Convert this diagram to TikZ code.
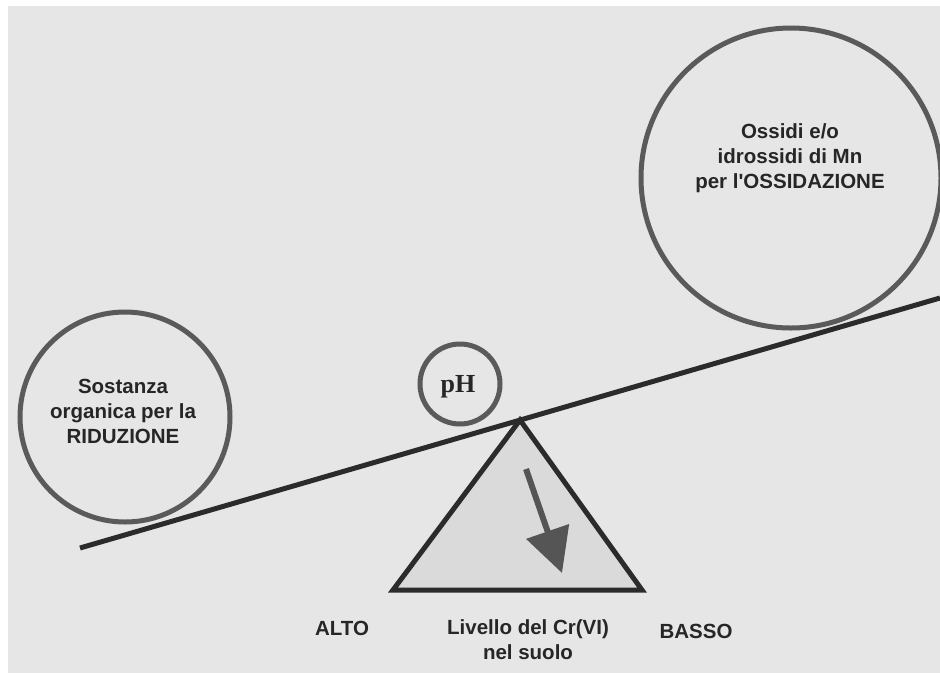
\documentclass[tikz,border=0pt]{standalone}
\usepackage{fontspec}
\setmainfont{Liberation Sans}
\newfontfamily\phfont{Liberation Serif}
\usepackage{xcolor}
\usetikzlibrary{arrows.meta, positioning}
\definecolor{sfondo}{HTML}{E6E6E6}
\definecolor{cerchio}{HTML}{5A5A5A}
\definecolor{leva}{HTML}{2B2B2B}
\definecolor{grigiotri}{HTML}{DADADA}
\definecolor{freccia}{HTML}{555555}

\begin{document}
\begin{tikzpicture}[x=1pt, y=-1pt,
			piatto/.style={circle, draw=cerchio, line width=5pt, align=center},
			etichetta/.style={align=center, text=black!85,
				font=\bfseries\fontsize{20.5}{25}\selectfont}]
			
			\useasboundingbox (0,0) rectangle (940,673);
			\fill[white] (0,0) rectangle (940,673);
			\fill[sfondo] (8,6) rectangle (940,673);
			
			% piatti della bilancia
			\node[piatto, minimum size=210pt] (riduz) at (125,417) {};
			\node[etichetta] (riduztxt) at (123,411) {Sostanza\\organica per la\\RIDUZIONE};
			\node[piatto, minimum size=300pt] (ossid) at (791,178) {};
			\node[etichetta] (ossidtxt) at (790,158) {Ossidi e/o\\idrossidi di Mn\\per l\textquotesingle OSSIDAZIONE};
			\node[piatto, minimum size=80pt] (ph) at (460,384) {};
			\node[font=\phfont\bfseries\fontsize{26}{26}\selectfont, text=black!85] (phtxt) at (458,387) {pH};
			
			% fulcro e asta
			\coordinate (apice) at (520,420);
			\coordinate (basesx) at (393,590);
			\coordinate (basedx) at (642,590);
			\draw[leva, fill=grigiotri, line width=5pt, line join=miter] (apice) -- (basesx) -- (basedx) -- cycle;
			\coordinate (astasx) at (80,548);
			\coordinate (astadx) at (940,298);
			\draw[leva, line width=5pt] (astasx) -- (astadx);
			
			% freccia
			\coordinate (fda) at (526,469);
			\coordinate (fa) at (562,573);
			\draw[freccia, line width=6pt, -{Triangle[length=44pt, width=44pt]}] (fda) -- (fa);
			
			% scritte
			\node[etichetta] (alto) at (342,628) {ALTO};
			\node[etichetta] (livello) at (528,640) {Livello del Cr(VI)\\nel suolo};
			\node[etichetta] (basso) at (696,631) {BASSO};
		\end{tikzpicture}
\end{document}
